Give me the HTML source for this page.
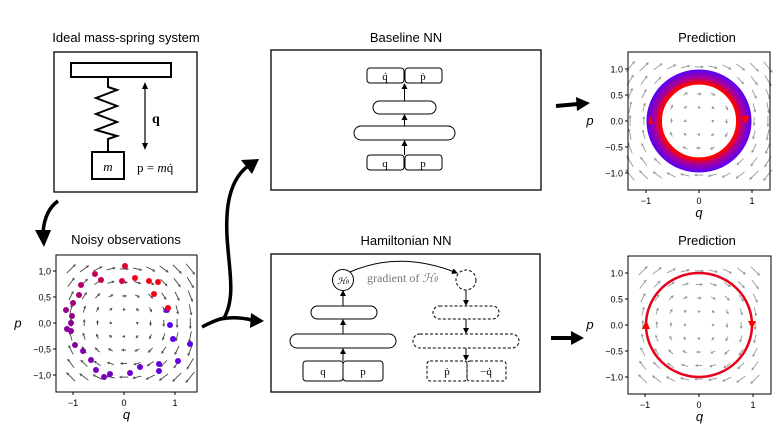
<!DOCTYPE html>
<html><head><meta charset="utf-8"><style>
html,body{margin:0;padding:0;background:#fff;}
svg{display:block;font-family:"Liberation Sans",sans-serif;}
.s{font-family:"Liberation Serif",serif;}
</style></head><body>
<svg id="c" width="784" height="435" viewBox="0 0 784 435" xmlns="http://www.w3.org/2000/svg">
<defs>
<marker id="ah" markerWidth="6" markerHeight="6" refX="5" refY="3" orient="auto" markerUnits="userSpaceOnUse"><path d="M0,0 L6,3 L0,6 z" fill="#000"/></marker>
<marker id="qa" markerWidth="3" markerHeight="3" refX="2" refY="1.5" orient="auto" markerUnits="userSpaceOnUse"><path d="M0,0 L3,1.5 L0,3 z" fill="#555"/></marker>
<marker id="qb" markerWidth="3" markerHeight="3" refX="2" refY="1.5" orient="auto" markerUnits="userSpaceOnUse"><path d="M0,0 L3,1.5 L0,3 z" fill="#999"/></marker>
</defs>
<text x="126" y="42" font-size="13" text-anchor="middle">Ideal mass-spring system</text>
<text x="126" y="244" font-size="13" text-anchor="middle">Noisy observations</text>
<text x="406" y="42" font-size="13" text-anchor="middle">Baseline NN</text>
<text x="406" y="245" font-size="13" text-anchor="middle">Hamiltonian NN</text>
<text x="707" y="42" font-size="13" text-anchor="middle">Prediction</text>
<text x="707" y="245" font-size="13" text-anchor="middle">Prediction</text>

<rect x="54" y="52" width="143" height="140" fill="none" stroke="#000" stroke-width="1.3"/>
<rect x="71" y="63" width="100" height="14" fill="none" stroke="#000" stroke-width="2"/>
<polyline points="108,77 108,87 117,90 96,98 117,106 96,114 117,122 96,130 117,136 108,139 108,152" fill="none" stroke="#000" stroke-width="2"/>
<rect x="92" y="152" width="32" height="27" fill="none" stroke="#000" stroke-width="2"/>
<text x="108" y="171" class="s" font-size="13" font-style="italic" text-anchor="middle">m</text>
<line x1="145" y1="84" x2="145" y2="148" stroke="#000" stroke-width="1.2"/>
<path d="M145,82 l-3,7 h6z M145,150 l-3,-7 h6z" fill="#000"/>
<text x="152" y="123" class="s" font-size="14" font-weight="bold">q</text>
<text x="137" y="172" class="s" font-size="13">p = <tspan font-style="italic">m</tspan>q̇</text>

<path d="M58,201 Q45,210 43,232" fill="none" stroke="#000" stroke-width="3.5"/>
<path d="M35,230 L44,247 L51,230 z" fill="#000"/>

<rect x="271" y="50" width="270" height="140" fill="none" stroke="#000" stroke-width="1.3"/>
<g fill="none" stroke="#000" stroke-width="1">
<rect x="367" y="68" width="37" height="15" rx="3"/><rect x="405" y="68" width="37" height="15" rx="3"/>
<rect x="373" y="101" width="63" height="13" rx="6.5"/>
<rect x="354" y="126" width="101" height="14" rx="7"/>
<rect x="367" y="155" width="37" height="15" rx="3"/><rect x="405" y="155" width="37" height="15" rx="3"/>
<line x1="404.5" y1="155" x2="404.5" y2="141" marker-end="url(#ah)"/>
<line x1="404.5" y1="126" x2="404.5" y2="115" marker-end="url(#ah)"/>
<line x1="404.5" y1="101" x2="404.5" y2="84" marker-end="url(#ah)"/>
</g>
<g class="s" font-size="11" text-anchor="middle">
<text x="385" y="80" class="s">q̇</text><text x="423" y="80" class="s">ṗ</text>
<text x="385" y="167" class="s">q</text><text x="423" y="167" class="s">p</text>
</g>

<rect x="271" y="254" width="269" height="138" fill="none" stroke="#000" stroke-width="1.3"/>
<g fill="none" stroke="#000" stroke-width="1">
<circle cx="343" cy="280" r="10.5"/>
<rect x="311" y="306" width="66" height="13" rx="6.5"/>
<rect x="290" y="334" width="106" height="14" rx="7"/>
<rect x="303" y="361" width="40" height="20" rx="3"/><rect x="343" y="361" width="40" height="20" rx="3"/>
<line x1="343" y1="361" x2="343" y2="349" marker-end="url(#ah)"/>
<line x1="343" y1="334" x2="343" y2="320" marker-end="url(#ah)"/>
<line x1="343" y1="306" x2="343" y2="291" marker-end="url(#ah)"/>
<path d="M350,272 Q400,250 457,273" marker-end="url(#ah)"/>
<g stroke-dasharray="3,2">
<circle cx="466" cy="280" r="10"/>
<rect x="433" y="306" width="66" height="13" rx="6.5"/>
<rect x="413" y="334" width="106" height="14" rx="7"/>
<rect x="427" y="361" width="40" height="20" rx="3"/><rect x="467" y="361" width="39" height="20" rx="3"/>
</g>
<line x1="466" y1="290" x2="466" y2="305" marker-end="url(#ah)"/>
<line x1="466" y1="319" x2="466" y2="333" marker-end="url(#ah)"/>
<line x1="466" y1="348" x2="466" y2="360" marker-end="url(#ah)"/>
</g>
<text x="343" y="284" class="s" font-size="9" font-style="italic" text-anchor="middle">ℋ<tspan font-size="6">θ</tspan></text>
<text x="367" y="282" class="s" font-size="12" fill="#777">gradient of <tspan font-style="italic">ℋ</tspan><tspan font-size="8" font-style="italic">θ</tspan></text>
<g class="s" font-size="11" text-anchor="middle">
<text x="323" y="375" class="s">q</text><text x="363" y="375" class="s">p</text>
<text x="447" y="375" class="s">ṗ</text><text x="486" y="375" class="s">−q̇</text>
</g>

<path d="M202,327 Q215,320 224,318 C240,290 222,250 228,205 Q232,178 248,166" fill="none" stroke="#000" stroke-width="3.5"/>
<path d="M241,160 L259,159 L252,174 z" fill="#000"/>
<path d="M220,319 Q235,316 252,320" fill="none" stroke="#000" stroke-width="3.5"/>
<path d="M251,313 L264,321 L250,328 z" fill="#000"/>
<path d="M556,106 L578,104" stroke="#000" stroke-width="4"/><path d="M576,97 L590,103 L577,111 z" fill="#000"/>
<path d="M551,338 L572,338" stroke="#000" stroke-width="4"/><path d="M571,331 L584,338 L571,345 z" fill="#000"/>

<g id="plots"></g>
</svg>
<script>
var NS="http://www.w3.org/2000/svg",P=document.getElementById('plots');
function el(t,a,tx){var e=document.createElementNS(NS,t);for(var k in a)e.setAttribute(k,a[k]);if(tx!==undefined)e.textContent=tx;P.appendChild(e);return e;}
function plot(x0,y0,x1,y1,cx,cy,sx,sy,ticks,col,mk,fmt){
 for(var i=0;i<11;i++)for(var j=0;j<11;j++){
  var q=-1.3+i*0.26,p=-1.3+j*0.26;
  var px=cx+q*sx,py=cy-p*sy;
  if(px<x0+2||px>x1-2||py<y0+2||py>y1-2)continue;
  var dx=p*8,dy=q*8;
  if(Math.abs(dx)+Math.abs(dy)<0.5)continue;
  el('line',{x1:px-dx/2,y1:py-dy/2,x2:px+dx/2,y2:py+dy/2,stroke:col,'stroke-width':0.9,'marker-end':'url(#'+mk+')'});
 }
 el('rect',{x:x0,y:y0,width:x1-x0,height:y1-y0,fill:'none',stroke:'#000','stroke-width':1});
 ticks.forEach(function(v){
  var yy=cy-v*sy;el('line',{x1:x0-3,y1:yy,x2:x0,y2:yy,stroke:'#000'});
  el('text',{x:x0-5,y:yy+3.5,'font-size':9,'text-anchor':'end'},(v<0?'−':'')+Math.abs(v).toFixed(1).replace('.',fmt));
 });
 [-1,0,1].forEach(function(v){var xx=cx+v*sx;el('line',{x1:xx,y1:y1,x2:xx,y2:y1+3,stroke:'#000'});
  el('text',{x:xx,y:y1+14,'font-size':9,'text-anchor':'middle'},(v<0?'−':'')+Math.abs(v));});
 el('text',{x:(x0+x1)/2,y:y1+27,'font-size':13,'font-style':'italic','text-anchor':'middle'},'q');
 el('text',{x:x0-38,y:(y0+y1)/2+4,'font-size':13,'font-style':'italic','text-anchor':'middle'},'p');
}
var T=[1,0.5,0,-0.5,-1];
plot(56,255,197,392,124,323,51,52,T,'#444','qa',',');
plot(628,52,770,190,699,121,53,52,T,'#999','qb','.');
plot(628,256,771,394,699,325,54,52,T,'#999','qb','.');
function lerp(a,b,t){t=Math.max(0,Math.min(1,t));return [a[0]+(b[0]-a[0])*t,a[1]+(b[1]-a[1])*t,a[2]+(b[2]-a[2])*t];}
var pts=[[125,266],[135,278],[149,281],[158,282],[122,281],[101,280],[95,274],[81,285],[79,295],[73,303],[66,310],[72,316],[71,323],[67,329],[71,331],[75,345],[83,351],[91,360],[96,370],[104,377],[110,374],[130,373],[140,367],[159,371],[159,364],[178,361],[190,344],[173,339],[170,325],[167,310],[168,308],[154,294]];
pts.forEach(function(d){var a=Math.atan2(323-d[1],d[0]-124);var t=(a-0.3);if(t<0)t+=2*Math.PI;t/=2*Math.PI;
 var c=t<0.18?[250,0,20]:t<0.45?lerp([230,0,50],[140,0,150],(t-0.18)/0.27):lerp([140,0,150],[90,0,245],(t-0.45)/0.5);
 el('circle',{cx:d[0],cy:d[1],r:3,fill:'rgb('+c.map(Math.round).join(',')+')'});});
for(var k=0;k<14;k++){var t=k/13,r=0.97-0.25*t;
 var c=t<0.6?lerp([90,0,245],[170,0,150],t/0.6):lerp([170,0,150],[255,0,0],(t-0.6)/0.4);
 el('ellipse',{cx:699,cy:121,rx:r*53,ry:r*52,fill:'none',stroke:'rgb('+c.map(Math.round).join(',')+')','stroke-width':2.2});}
el('path',{d:'M653,124 l-5,0 l2.5,-8z',fill:'#f00'});
el('path',{d:'M741,116 l9,0 l-4.5,8z',fill:'#f00'});
el('ellipse',{cx:699,cy:325,rx:53,ry:52,fill:'none',stroke:'#e8001a','stroke-width':2.5});
el('path',{d:'M642,329 l8,0 l-4,-9z',fill:'#f00'});
el('path',{d:'M748,321 l8,0 l-4,8z',fill:'#f00'});
</script>
</body></html>
